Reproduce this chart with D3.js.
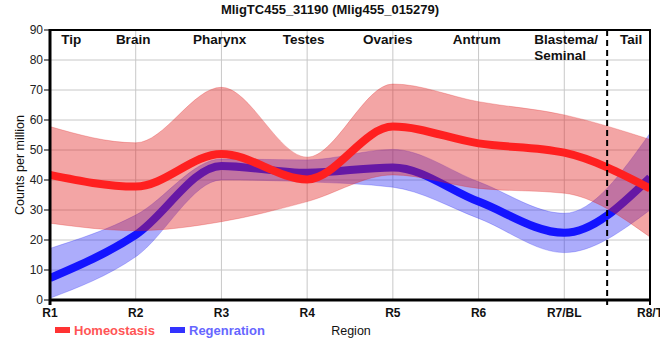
<!DOCTYPE html>
<html>
<head>
<meta charset="utf-8">
<script src="https://cdn.jsdelivr.net/npm/d3@7"></script>
<style>
  html, body { margin: 0; padding: 0; background: #fff; }
  svg { display: block; font-family: "Liberation Sans", Arial, sans-serif; }
</style>
</head>
<body>
<svg id="chart" width="660" height="360"></svg>
<script>
// ---- data ----
const title = "MligTC455_31190 (Mlig455_015279)";
const xTickLabels = ["R1", "R2", "R3", "R4", "R5", "R6", "R7/BL", "R8/T"];
const yTicks = [0, 10, 20, 30, 40, 50, 60, 70, 80, 90];
const regionNames = ["Tip", "Brain", "Pharynx", "Testes", "Ovaries", "Antrum", "Blastema/\nSeminal", "Tail"];
const seriesNames = ["Homeostasis", "Regenration"];

const homeoMean  = [41.7, 37.8, 48.7, 40.2, 57.8, 52.2, 49.1, 37.2];
const homeoUpper = [57.8, 52.4, 70.9, 47.6, 72.0, 66.1, 61.7, 53.5];
const homeoLower = [25.6, 23.1, 26.1, 32.8, 41.7, 37.2, 35.6, 21.0];

const regenMean  = [7.3, 21.7, 44.7, 42.4, 44.2, 32.8, 22.4, 40.8];
const regenUpper = [17.2, 28.3, 47.0, 46.7, 50.2, 39.4, 28.9, 55.6];
const regenLower = [0.6, 14.4, 40.0, 39.4, 37.6, 27.2, 15.8, 30.0];

// ---- layout ----
const svg = d3.select("#chart");
const L = 50, R = 650, T = 30, B = 300;
const x = d3.scaleLinear().domain([0, xTickLabels.length - 1]).range([L, R]);
const y = d3.scaleLinear().domain([0, 90]).range([B, T]);
const idx = d3.range(xTickLabels.length);

// region label placement (in x-index units) and anchors
const regionPos = [0.13, 0.97, 1.98, 2.96, 3.94, 4.98, 5.65, 6.78];
const regionAnchor = ["start", "middle", "middle", "middle", "middle", "middle", "start", "middle"];
const dividerAt = 6.5;

// clip
svg.append("defs").append("clipPath").attr("id", "clip")
  .append("rect").attr("x", L).attr("y", T).attr("width", R - L).attr("height", B - T);

// gridlines
const grid = svg.append("g").attr("stroke", "#c8c8c8").attr("stroke-width", 1);
yTicks.filter(v => v > 0 && v < 90).forEach(v => {
  grid.append("line").attr("x1", L).attr("x2", R).attr("y1", y(v)).attr("y2", y(v));
});
idx.filter(i => i > 0 && i < xTickLabels.length - 1).forEach(i => {
  grid.append("line").attr("x1", x(i)).attr("x2", x(i)).attr("y1", T).attr("y2", B);
});

const curve = d3.curveMonotoneX;
const area = (up, lo) => d3.area().curve(curve)
  .x(i => x(i)).y0(i => y(lo[i])).y1(i => y(up[i]))(idx);
const line = (vals) => d3.line().curve(curve).x(i => x(i)).y(i => y(vals[i]))(idx);

const plot = svg.append("g").attr("clip-path", "url(#clip)");

// regeneration band + line
plot.append("path").attr("d", area(regenUpper, regenLower))
  .attr("fill", "rgb(30,30,245)").attr("fill-opacity", 0.37)
  .attr("stroke", "rgb(30,30,245)").attr("stroke-opacity", 0.25).attr("stroke-width", 1);
plot.append("path").attr("d", line(regenMean))
  .attr("fill", "none").attr("stroke", "rgb(20,20,255)").attr("stroke-width", 8);

// homeostasis band + line
plot.append("path").attr("d", area(homeoUpper, homeoLower))
  .attr("fill", "rgb(225,30,30)").attr("fill-opacity", 0.4)
  .attr("stroke", "rgb(225,30,30)").attr("stroke-opacity", 0.25).attr("stroke-width", 1);
plot.append("path").attr("d", line(homeoMean))
  .attr("fill", "none").attr("stroke", "rgb(255,32,32)").attr("stroke-width", 8);

// divider (dashed)
svg.append("line").attr("x1", x(dividerAt)).attr("x2", x(dividerAt)).attr("y1", T).attr("y2", B + 5)
  .attr("stroke", "#000").attr("stroke-width", 2).attr("stroke-dasharray", "6,4");

// frame
svg.append("line").attr("x1", L).attr("x2", R + 1).attr("y1", T).attr("y2", T).attr("stroke", "#000").attr("stroke-width", 2);
svg.append("line").attr("x1", R).attr("x2", R).attr("y1", T).attr("y2", B + 5).attr("stroke", "#000").attr("stroke-width", 2);
svg.append("line").attr("x1", L).attr("x2", L).attr("y1", T - 1).attr("y2", B + 5).attr("stroke", "#000").attr("stroke-width", 3);
svg.append("line").attr("x1", L - 1).attr("x2", R + 1).attr("y1", B).attr("y2", B).attr("stroke", "#000").attr("stroke-width", 3);

// y ticks
yTicks.forEach(v => {
  svg.append("line").attr("x1", L - 6).attr("x2", L).attr("y1", y(v)).attr("y2", y(v)).attr("stroke", "#000").attr("stroke-width", 1);
  svg.append("text").attr("x", L - 7).attr("y", y(v) + 4).attr("text-anchor", "end")
    .attr("font-size", 12).attr("fill", "#222").text(v);
});

// x tick labels
xTickLabels.forEach((t, i) => {
  svg.append("text").attr("x", x(i)).attr("y", B + 17).attr("text-anchor", "middle")
    .attr("font-size", 12).attr("font-weight", "bold").attr("fill", "#111").text(t);
});

// region labels
regionNames.forEach((name, i) => {
  const parts = name.split("\n");
  const t = svg.append("text").attr("x", x(regionPos[i])).attr("y", T + 14)
    .attr("text-anchor", regionAnchor[i]).attr("font-size", 13.5).attr("font-weight", "bold").attr("fill", "#111");
  parts.forEach((p, k) => {
    t.append("tspan").attr("x", x(regionPos[i])).attr("dy", k === 0 ? 0 : 15.5).text(p);
  });
});

// title
svg.append("text").attr("x", 330).attr("y", 14).attr("text-anchor", "middle")
  .attr("font-size", 13).attr("font-weight", "bold").attr("fill", "#111").text(title);

// y axis title
svg.append("text").attr("transform", `translate(24,${(T + B) / 2}) rotate(-90)`)
  .attr("text-anchor", "middle").attr("font-size", 12.5).attr("fill", "#111").text("Counts per million");

// x axis title
svg.append("text").attr("x", 351).attr("y", 335).attr("text-anchor", "middle")
  .attr("font-size", 12.5).attr("fill", "#111").text("Region");

// legend
const legendColors = ["#ff3333", "#3333ff"];
const legendText = ["#ff5555", "#6666ff"];
const legendX = [55, 170];
seriesNames.forEach((s, i) => {
  svg.append("rect").attr("x", legendX[i]).attr("y", 327).attr("width", 15).attr("height", 6).attr("fill", legendColors[i]);
  svg.append("text").attr("x", legendX[i] + 19).attr("y", 335).attr("font-size", 13)
    .attr("font-weight", "bold").attr("fill", legendText[i]).text(s);
});
</script>
</body>
</html>
